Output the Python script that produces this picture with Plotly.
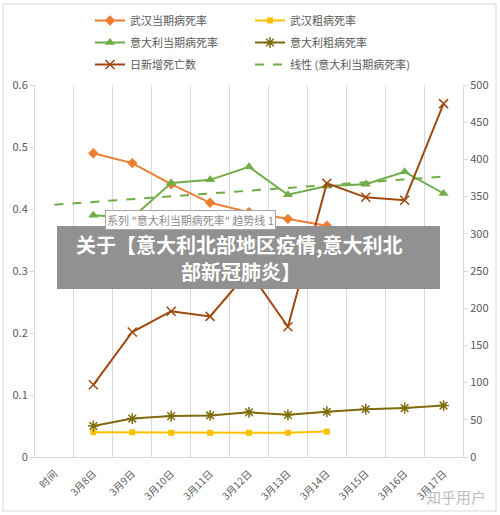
import numpy as np
import plotly.graph_objects as go

categories = ["时间", "3月8日", "3月9日", "3月10日", "3月11日", "3月12日",
              "3月13日", "3月14日", "3月15日", "3月16日", "3月17日"]
dates = categories[1:]
wuhan_dates = categories[1:8]

wuhan_current_rate = [0.490, 0.474, 0.440, 0.410, 0.395, 0.384, 0.373]
wuhan_crude_rate = [0.040, 0.040, 0.039, 0.039, 0.039, 0.039, 0.041]
italy_current_rate = [0.390, 0.386, 0.442, 0.447, 0.468, 0.423, 0.437, 0.440, 0.460, 0.425]
italy_crude_rate = [0.050, 0.062, 0.066, 0.067, 0.072, 0.068, 0.073, 0.077, 0.079, 0.083]
daily_deaths = [97, 168, 196, 189, 250, 175, 368, 349, 345, 475]

left_ticks = [0, 0.1, 0.2, 0.3, 0.4, 0.5, 0.6]
right_ticks = [0, 50, 100, 150, 200, 250, 300, 350, 400, 450, 500]

# linear trendline of Italy current rate (Excel-style), drawn across all categories
k = np.arange(len(italy_current_rate))
slope, intercept = np.polyfit(k, italy_current_rate, 1)
trend_k = np.arange(-1, len(italy_current_rate))
trend_y = intercept + slope * trend_k

W, H = 500, 515
L, R, T, B = 35, 37, 85, 58
PW, PH = W - L - R, H - T - B

def px(x):
    return (x - L) / PW

def py(y):
    return (H - B - y) / PH

FONT = "Noto Sans CJK SC"
GREY = "#595959"

fig = go.Figure()

fig.add_trace(go.Scatter(
    x=wuhan_dates, y=wuhan_current_rate, name="武汉当期病死率", mode="lines+markers",
    line=dict(color="#ED7D31", width=2), marker=dict(symbol="diamond", size=8, color="#ED7D31"),
    legend="legend", legendgroup="a"))
fig.add_trace(go.Scatter(
    x=wuhan_dates, y=wuhan_crude_rate, name="武汉粗病死率", mode="lines+markers",
    line=dict(color="#FFC000", width=2), marker=dict(symbol="square", size=6, color="#FFC000"),
    legend="legend2", legendgroup="b"))
fig.add_trace(go.Scatter(
    x=dates, y=italy_current_rate, name="意大利当期病死率", mode="lines+markers",
    line=dict(color="#70AD47", width=2), marker=dict(symbol="triangle-up", size=9, color="#70AD47"),
    legend="legend", legendgroup="c"))
fig.add_trace(go.Scatter(
    x=dates, y=italy_crude_rate, name="意大利粗病死率", mode="lines+markers",
    line=dict(color="#7F6A0C", width=2),
    marker=dict(symbol="asterisk-open", size=9, color="#7F6A0C", line=dict(color="#7F6A0C", width=1.5)),
    legend="legend2", legendgroup="d"))
fig.add_trace(go.Scatter(
    x=categories, y=trend_y, name="线性 (意大利当期病死率)", mode="lines",
    line=dict(color="#70AD47", width=2, dash="dash"),
    legend="legend2", legendgroup="f"))
fig.add_trace(go.Scatter(
    x=dates, y=daily_deaths, name="日新增死亡数", mode="lines+markers", yaxis="y2",
    line=dict(color="#9E480E", width=2),
    marker=dict(symbol="x-thin-open", size=9, color="#9E480E", line=dict(color="#9E480E", width=1.5)),
    legend="legend", legendgroup="e"))

leg_common = dict(orientation="v", yanchor="top", xanchor="left", bgcolor="rgba(0,0,0,0)",
                  font=dict(family=FONT, size=11, color=GREY), traceorder="grouped",
                  tracegroupgap=3, itemclick=False)

fig.update_layout(
    width=W, height=H,
    margin=dict(l=L, r=R, t=T, b=B, autoexpand=False),
    paper_bgcolor="white", plot_bgcolor="white",
    font=dict(family=FONT, size=11, color=GREY),
    showlegend=True,
    legend=dict(x=px(90), y=py(6), **leg_common),
    legend2=dict(x=px(250), y=py(6), **leg_common),
    xaxis=dict(type="category", categoryorder="array", categoryarray=categories,
               range=[-0.5, 10.5], tickson="boundaries", showgrid=True, gridcolor="#D9D9D9",
               gridwidth=1, showline=True, linecolor="#D9D9D9", ticks="", tickangle=-45,
               ticklabelstandoff=6,
               tickfont=dict(size=10, color=GREY), zeroline=False),
    yaxis=dict(range=[0, 0.6], tickvals=left_ticks, ticktext=["0", "0.1", "0.2", "0.3", "0.4", "0.5", "0.6"],
               showgrid=False, showline=True, linecolor="#D9D9D9", ticks="outside", ticklen=4,
               tickcolor="#D9D9D9", tickfont=dict(size=11, color=GREY), zeroline=False),
    yaxis2=dict(range=[0, 500], tickvals=right_ticks, overlaying="y", side="right",
                showgrid=False, showline=True, linecolor="#D9D9D9", ticks="outside", ticklen=4,
                tickcolor="#D9D9D9", tickfont=dict(size=11, color=GREY), zeroline=False),
)

# chart area border
fig.add_shape(type="rect", xref="paper", yref="paper", x0=px(3), x1=px(496), y0=py(511), y1=py(4),
              line=dict(color="#D9D9D9", width=1), layer="below")

# tooltip-like label
fig.add_annotation(xref="paper", yref="paper", x=px(190), y=py(220), xanchor="center", yanchor="middle",
                   text='系列 "意大利当期病死率" 趋势线 1', showarrow=False,
                   font=dict(family=FONT, size=11, color="#8C8C8C"),
                   bgcolor="white", bordercolor="#A6A6A6", borderwidth=1, borderpad=1)

# grey overlay title box
fig.add_shape(type="rect", xref="paper", yref="paper", x0=px(57), x1=px(440), y0=py(289), y1=py(226),
              fillcolor="#919191", line=dict(width=0), layer="above")
fig.add_annotation(xref="paper", yref="paper", x=px(239), y=py(245), xanchor="center", yanchor="middle",
                   text="<b>关于【意大利北部地区疫情,意大利北</b>", showarrow=False,
                   font=dict(family=FONT, size=20, color="white"))
fig.add_annotation(xref="paper", yref="paper", x=px(241), y=py(271), xanchor="center", yanchor="middle",
                   text="<b>部新冠肺炎】</b>", showarrow=False,
                   font=dict(family=FONT, size=20, color="white"))

# watermark
fig.add_annotation(xref="paper", yref="paper", x=px(456), y=py(497), xanchor="center", yanchor="middle",
                   text="知乎用户", showarrow=False,
                   font=dict(family=FONT, size=15, color="#BDBDBD"))

fig.write_html("out.html", config={"displayModeBar": False},
               post_script="document.body.style.margin='0';")
